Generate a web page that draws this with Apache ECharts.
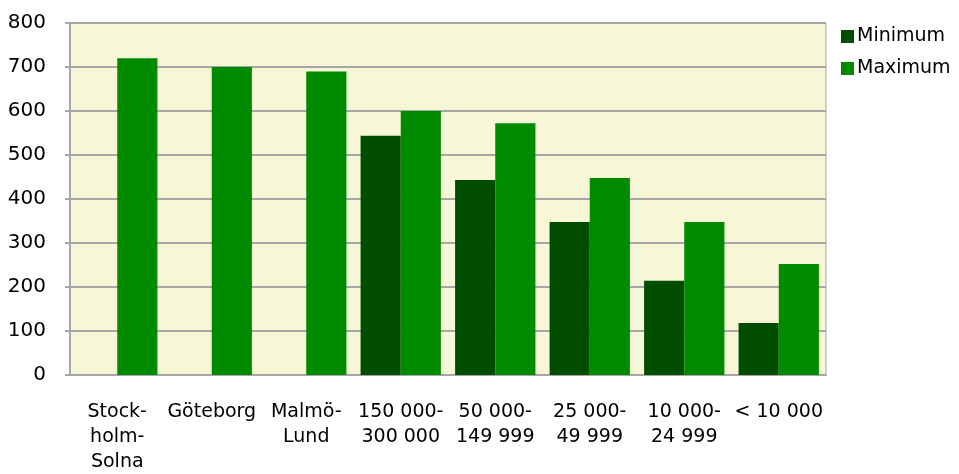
<!DOCTYPE html>
<html>
<head>
<meta charset="utf-8">
<script src="https://cdn.jsdelivr.net/npm/echarts@6/dist/echarts.min.js"></script>
<style>
  html, body { margin: 0; padding: 0; background: #fff; }
  #main { width: 959px; height: 474px; }
</style>
</head>
<body>
<div id="main"></div>
<script>
// kategorier (orter / kommunstorlek)
const categories = [
  'Stock-\nholm-\nSolna',
  'Göteborg',
  'Malmö-\nLund',
  '150 000-\n300 000',
  '50 000-\n149 999',
  '25 000-\n49 999',
  '10 000-\n24 999',
  '< 10 000'
]
const minValues = [null, null, null, 544, 443, 348, 214, 118]
const maxValues = [720, 700, 690, 600, 572, 448, 348, 252]
const yTicks = { min: 0, max: 800, interval: 100 }

// bredare typsnitt, liknar originalets spärrade Arial
const font = 'DejaVu Sans'

let myChart = echarts.init(document.getElementById('main'))
let option = {
  animation: false,
  textStyle: { fontFamily: font },
  legend: {
    data: ['Minimum', 'Maximum'],
    orient: 'vertical',
    left: 836,
    top: 22,
    itemWidth: 13,
    itemHeight: 13,
    itemGap: 13,
    icon: 'rect',
    textStyle: { fontSize: 19, color: '#000', fontFamily: font, padding: [0, 0, 0, -2] }
  },
  grid: {
    left: 70,
    right: 133,
    top: 23,
    bottom: 99,
    outerBoundsMode: 'none',
    show: true,
    backgroundColor: '#F7F7D8',
    borderColor: '#A6A6A6',
    borderWidth: 1
  },
  xAxis: {
    type: 'category',
    data: categories,
    axisLine: { lineStyle: { color: '#A6A6A6', width: 2 } },
    axisTick: { show: false },
    axisLabel: {
      fontSize: 19,
      color: '#000',
      lineHeight: 25,
      margin: 25,
      interval: 0,
      fontFamily: font
    }
  },
  yAxis: {
    type: 'value',
    min: yTicks.min,
    max: yTicks.max,
    interval: yTicks.interval,
    axisLine: { show: true, lineStyle: { color: '#A6A6A6', width: 2 } },
    axisTick: { show: true, length: 5, lineStyle: { color: '#A6A6A6', width: 2 } },
    splitLine: { lineStyle: { color: '#A6A6A6', width: 2 } },
    axisLabel: { fontSize: 20, color: '#000', margin: 24, fontFamily: font }
  },
  series: [
    {
      name: 'Minimum',
      type: 'bar',
      data: minValues,
      barGap: '0%',
      barCategoryGap: '15%',
      itemStyle: { color: '#004D00' }
    },
    {
      name: 'Maximum',
      type: 'bar',
      data: maxValues,
      itemStyle: { color: '#008A00' }
    }
  ]
}
myChart.setOption(option)
</script>
</body>
</html>
